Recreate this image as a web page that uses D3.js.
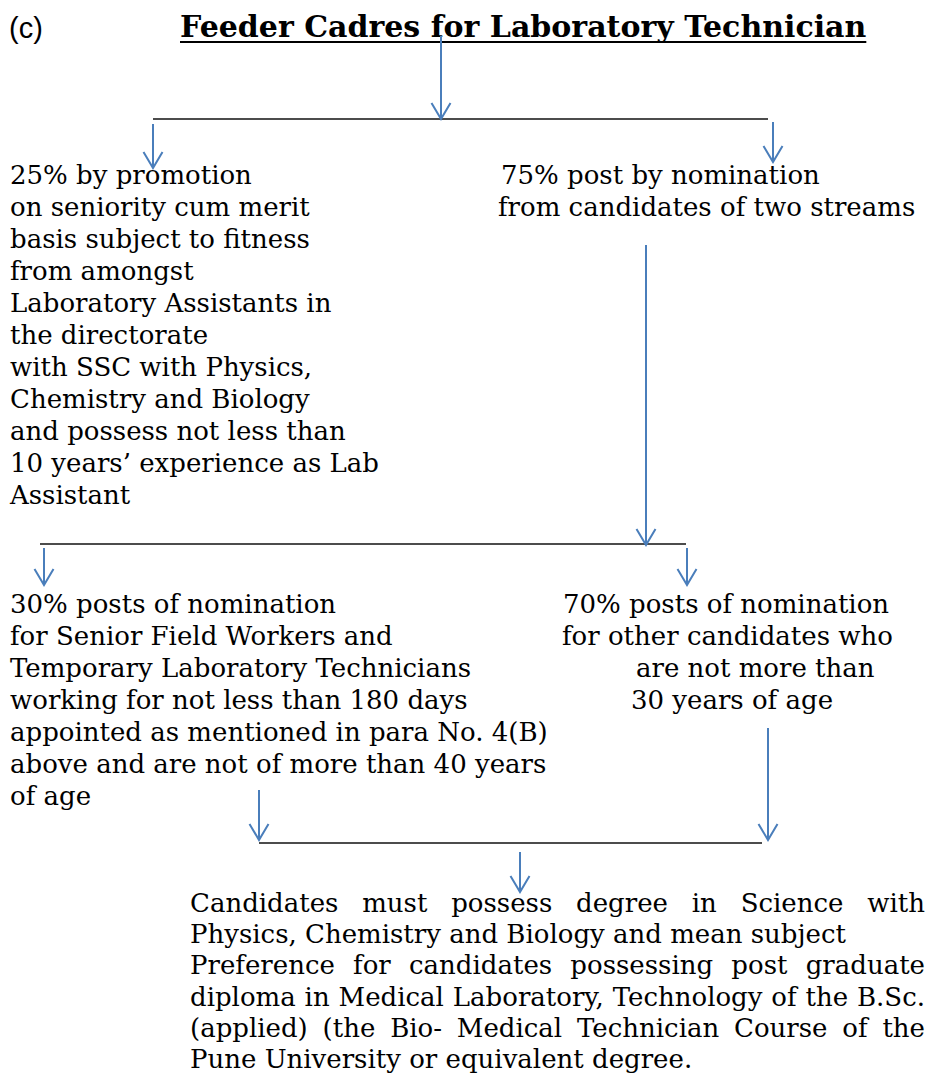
<!DOCTYPE html>
<html>
<head>
<meta charset="utf-8">
<script src="https://cdn.jsdelivr.net/npm/d3@7"></script>
<style>
  html, body { margin: 0; padding: 0; background: #fff; }
  svg { display: block; }
</style>
</head>
<body>
<div id="chart"></div>
<script>
// ---------------------------
// Texts of the flowchart
// ---------------------------
const sectionLabel = '(c)';
const titleText = 'Feeder Cadres for Laboratory Technician';

const promotionLines = [
  '25% by promotion',
  'on seniority cum merit',
  'basis subject to fitness',
  'from amongst',
  'Laboratory Assistants in',
  'the directorate',
  'with SSC with Physics,',
  'Chemistry and Biology',
  'and possess not less than',
  '10 years\u2019 experience as Lab',
  'Assistant'
];

const nominationLines = [
  '75% post by nomination',
  'from candidates of two streams'
];

const seniorLines = [
  '30% posts of nomination',
  'for Senior Field Workers and',
  'Temporary Laboratory Technicians',
  'working for not less than 180 days',
  'appointed as mentioned in para No. 4(B)',
  'above and are not of more than 40 years',
  'of age'
];

const otherLines = [
  '70% posts of nomination',
  'for other candidates who',
  'are not more than',
  '30 years of age'
];

const qualificationLines = [
  'Candidates must possess degree in Science with',
  'Physics, Chemistry and Biology and mean subject',
  'Preference for candidates possessing post graduate',
  'diploma in Medical Laboratory, Technology of the B.Sc.',
  '(applied) (the Bio- Medical Technician Course of the',
  'Pune University or equivalent degree.'
];
// lines of the last paragraph that are stretched to the full width
const justifiedRows = [true, false, true, true, true, false];

// ---------------------------
// Layout (pixels)
// ---------------------------
const W = 927, H = 1076;
const LINE_H = 32;
const BODY_FONT = 'DejaVu Serif, serif';
const BODY_SIZE = 26;
const BLUE = '#4a7ebb';

const textBlocks = [
  { lines: promotionLines, x: [10], y: 184 },
  { lines: nominationLines, x: [501, 498], y: 184 },
  { lines: seniorLines, x: [10], y: 613 },
  { lines: otherLines, x: [563, 562, 636, 631], y: 613 }
];

const arrows = [
  { x: 441, y1: 36, y2: 119 },
  { x: 153, y1: 124, y2: 168 },
  { x: 773, y1: 122, y2: 162 },
  { x: 646, y1: 245, y2: 545 },
  { x: 44, y1: 548, y2: 585 },
  { x: 687, y1: 548, y2: 585 },
  { x: 259, y1: 790, y2: 840 },
  { x: 768, y1: 728, y2: 840 },
  { x: 520, y1: 852, y2: 892 }
];

const rules = [
  { y: 119, x1: 153, x2: 768 },
  { y: 544, x1: 40, x2: 686 },
  { y: 843, x1: 259, x2: 762 }
];

const svg = d3.select('#chart').append('svg')
  .attr('width', W)
  .attr('height', H)
  .attr('viewBox', `0 0 ${W} ${H}`);

svg.append('defs').append('marker')
  .attr('id', 'arrowhead')
  .attr('viewBox', '-20 -12 24 24')
  .attr('refX', 0)
  .attr('refY', 0)
  .attr('orient', 'auto')
  .attr('markerUnits', 'userSpaceOnUse')
  .attr('markerWidth', 24)
  .attr('markerHeight', 24)
  .append('path')
  .attr('d', 'M -16,-9.5 L 0,0 L -16,9.5')
  .attr('fill', 'none')
  .attr('stroke', BLUE)
  .attr('stroke-width', 2);

// ---------------------------
// Title
// ---------------------------
svg.append('text')
  .attr('x', 9)
  .attr('y', 38)
  .attr('font-family', 'Liberation Sans, Arial, sans-serif')
  .attr('font-size', 29)
  .attr('fill', '#000')
  .text(sectionLabel);

const title = svg.append('text')
  .attr('x', 180)
  .attr('y', 37)
  .attr('font-family', BODY_FONT)
  .attr('font-weight', 'bold')
  .attr('font-size', 30)
  .attr('fill', '#000')
  .text(titleText);

const titleW = title.node().getComputedTextLength();
svg.append('line')
  .attr('x1', 180).attr('x2', 180 + titleW)
  .attr('y1', 42).attr('y2', 42)
  .attr('stroke', '#000')
  .attr('stroke-width', 2);

// ---------------------------
// Connector rules (black) and arrows (blue)
// ---------------------------
svg.selectAll('.rule')
  .data(rules)
  .enter()
  .append('line')
  .attr('class', 'rule')
  .attr('x1', d => d.x1).attr('x2', d => d.x2)
  .attr('y1', d => d.y).attr('y2', d => d.y)
  .attr('stroke', '#111')
  .attr('stroke-width', 1.5);

svg.selectAll('.arrow')
  .data(arrows)
  .enter()
  .append('line')
  .attr('class', 'arrow')
  .attr('x1', d => d.x).attr('x2', d => d.x)
  .attr('y1', d => d.y1).attr('y2', d => d.y2)
  .attr('stroke', BLUE)
  .attr('stroke-width', 2)
  .attr('marker-end', 'url(#arrowhead)');

// ---------------------------
// Text blocks
// ---------------------------
textBlocks.forEach(block => {
  svg.append('g')
    .selectAll('text')
    .data(block.lines)
    .enter()
    .append('text')
    .attr('x', (d, i) => block.x[Math.min(i, block.x.length - 1)])
    .attr('y', (d, i) => block.y + i * LINE_H)
    .attr('font-family', BODY_FONT)
    .attr('font-size', BODY_SIZE)
    .attr('fill', '#000')
    .text(d => d);
});

// ---------------------------
// Justified paragraph at the bottom
// ---------------------------
const para = { x1: 190, x2: 925, y: 912, lineH: 31.2 };
const paraG = svg.append('g')
  .attr('font-family', BODY_FONT)
  .attr('font-size', 26)
  .attr('fill', '#000');

const spaceW = (() => {
  const t = paraG.append('text').text('a a');
  const t2 = paraG.append('text').text('aa');
  const w = t.node().getComputedTextLength() - t2.node().getComputedTextLength();
  t.remove(); t2.remove();
  return w;
})();

qualificationLines.forEach((line, i) => {
  const y = para.y + i * para.lineH;
  const words = line.split(' ');
  const nodes = words.map(w => paraG.append('text').attr('y', y).text(w));
  const widths = nodes.map(n => n.node().getComputedTextLength());
  const total = d3.sum(widths);
  const gap = justifiedRows[i] && words.length > 1
    ? (para.x2 - para.x1 - total) / (words.length - 1)
    : spaceW;
  let x = para.x1;
  nodes.forEach((n, j) => {
    n.attr('x', x);
    x += widths[j] + gap;
  });
});
</script>
</body>
</html>
